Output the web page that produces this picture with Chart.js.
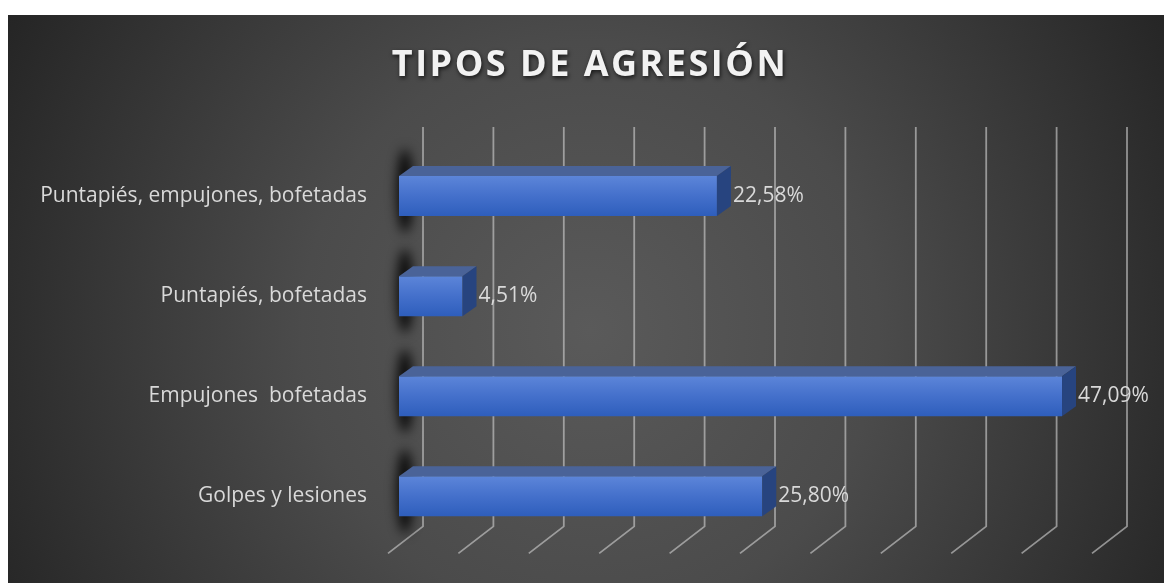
<!DOCTYPE html>
<html>
<head>
<meta charset="utf-8">
<script src="https://cdn.jsdelivr.net/npm/chart.js@4.4.1/dist/chart.umd.min.js"></script>
<style>
html, body { margin: 0; padding: 0; background: #fff; }
#grafico { display: block; }
</style>
</head>
<body>
<canvas id="grafico" width="1164" height="583"></canvas>
<script>
// Datos del gráfico
var categorias = ['Puntapiés, empujones, bofetadas', 'Puntapiés, bofetadas', 'Empujones  bofetadas', 'Golpes y lesiones'];
var porcentajes = [22.58, 4.51, 47.09, 25.80];
var titulo = 'TIPOS DE AGRESIÓN';
var ejeMin = 0, ejeMax = 50, ejePaso = 5;

// profundidad del efecto 3D
var prof = { dx: 14, dy: -10 };

var fmt = function(v) { return v.toFixed(2).replace('.', ',') + '%'; };

// Fondo oscuro con degradado radial
var fondo = {
    id: 'fondo',
    beforeDraw: function(chart) {
        var ctx = chart.ctx;
        ctx.save();
        ctx.fillStyle = '#fff';
        ctx.fillRect(0, 0, chart.width, chart.height);
        var g = ctx.createRadialGradient(590, 330, 0, 590, 330, 720);
        g.addColorStop(0, '#5a5a5a');
        g.addColorStop(0.4, '#4b4b4b');
        g.addColorStop(1, '#1f1f1f');
        ctx.fillStyle = g;
        ctx.fillRect(8, 15, chart.width - 8, chart.height - 15);
        ctx.restore();
    }
};

// Título con espaciado
var tituloPlugin = {
    id: 'tituloPlugin',
    afterDraw: function(chart) {
        var ctx = chart.ctx;
        ctx.save();
        ctx.font = 'bold 36px "Open Sans"';
        ctx.letterSpacing = '2.5px';
        ctx.textAlign = 'center';
        ctx.textBaseline = 'alphabetic';
        ctx.shadowColor = 'rgba(0,0,0,0.7)';
        ctx.shadowBlur = 4;
        ctx.shadowOffsetX = 1;
        ctx.shadowOffsetY = 2;
        ctx.fillStyle = '#f2f2f2';
        ctx.fillText(titulo, 590, 76);
        ctx.restore();
    }
};

// Rejilla en perspectiva (pared del fondo + suelo)
var rejilla = {
    id: 'rejilla',
    beforeDatasetsDraw: function(chart) {
        var ctx = chart.ctx, xs = chart.scales.x, area = chart.chartArea;
        ctx.save();
        ctx.strokeStyle = 'rgba(200,200,200,0.65)';
        ctx.lineWidth = 1.8;
        xs.ticks.forEach(function(t) {
            var px = xs.getPixelForValue(t.value);
            ctx.beginPath();
            ctx.moveTo(px + 24, area.top - 19);
            ctx.lineTo(px + 24, area.bottom - 20);
            ctx.lineTo(px - 11, area.bottom + 7);
            ctx.stroke();
        });
        // sombras de las barras sobre la pared
        var meta = chart.getDatasetMeta(0);
        meta.data.forEach(function(bar) {
            ctx.save();
            ctx.filter = 'blur(6px)';
            ctx.fillStyle = 'rgba(0,0,0,0.9)';
            ctx.beginPath();
            ctx.ellipse(bar.base + 6, bar.y - 5, 8, bar.height * 1.05, 0, 0, Math.PI * 2);
            ctx.fill();
            ctx.restore();
        });
        ctx.restore();
    }
};

// Caras superior y lateral de cada barra + etiquetas
var caras3d = {
    id: 'caras3d',
    afterDatasetsDraw: function(chart) {
        var ctx = chart.ctx;
        var meta = chart.getDatasetMeta(0);
        ctx.save();
        meta.data.forEach(function(bar, i) {
            var top = bar.y - bar.height / 2, bottom = bar.y + bar.height / 2;
            var x0 = bar.base, x1 = bar.x;
            // cara superior
            ctx.fillStyle = '#4a6398';
            ctx.beginPath();
            ctx.moveTo(x0, top);
            ctx.lineTo(x0 + prof.dx, top + prof.dy);
            ctx.lineTo(x1 + prof.dx, top + prof.dy);
            ctx.lineTo(x1, top);
            ctx.closePath();
            ctx.fill();
            // cara lateral
            ctx.fillStyle = '#27447f';
            ctx.beginPath();
            ctx.moveTo(x1, top);
            ctx.lineTo(x1 + prof.dx, top + prof.dy);
            ctx.lineTo(x1 + prof.dx, bottom + prof.dy);
            ctx.lineTo(x1, bottom);
            ctx.closePath();
            ctx.fill();
            // etiqueta de valor
            ctx.font = '21px "Open Sans"';
            ctx.fillStyle = '#d9d9d9';
            ctx.textAlign = 'left';
            ctx.textBaseline = 'middle';
            ctx.fillText(fmt(porcentajes[i]), x1 + prof.dx + 2, bar.y);
        });
        ctx.restore();
    }
};

var ctx = document.getElementById('grafico').getContext('2d');
var grafico = new Chart(ctx, {
    type: 'bar',
    data: {
        labels: categorias,
        datasets: [{
            data: porcentajes,
            borderWidth: 0,
            categoryPercentage: 1,
            barPercentage: 0.4,
            backgroundColor: function(c) {
                var ch = c.chart, ys = ch.scales.y;
                if (!ys || c.dataIndex === undefined) return '#4472c4';
                var yc = ys.getPixelForValue(c.dataIndex);
                if (!isFinite(yc)) return '#4472c4';
                var g = ch.ctx.createLinearGradient(0, yc - 20, 0, yc + 20);
                g.addColorStop(0, '#5c85d9');
                g.addColorStop(0.5, '#4470cb');
                g.addColorStop(1, '#2e5ebc');
                return g;
            }
        }]
    },
    options: {
        indexAxis: 'y',
        responsive: false,
        animation: false,
        devicePixelRatio: 1,
        layout: { padding: { top: 146, bottom: 20, right: 61, left: 0 } },
        plugins: {
            legend: { display: false },
            title: { display: false },
            tooltip: { enabled: false }
        },
        scales: {
            x: {
                min: ejeMin,
                max: ejeMax,
                ticks: { display: false, stepSize: ejePaso },
                grid: { display: false },
                border: { display: false }
            },
            y: {
                grid: { display: false },
                border: { display: false },
                ticks: {
                    color: '#d9d9d9',
                    padding: 24,
                    font: { family: 'Open Sans', size: 21 }
                },
                afterFit: function(s) { s.width = 399; }
            }
        }
    },
    plugins: [fondo, rejilla, caras3d, tituloPlugin]
});
</script>
</body>
</html>
